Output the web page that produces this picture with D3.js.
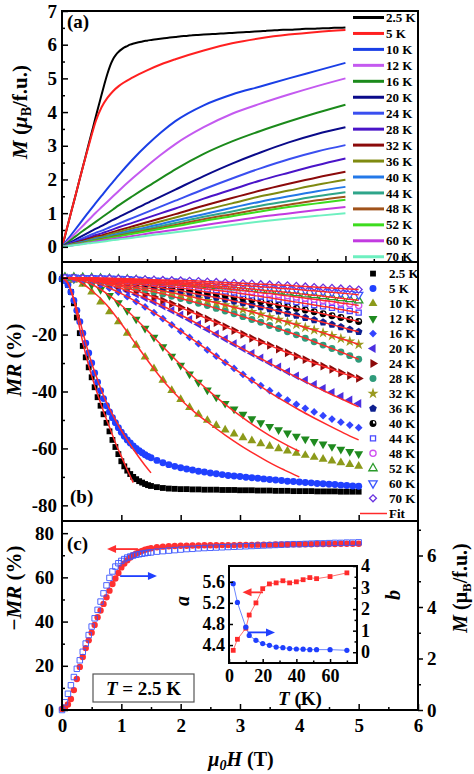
<!DOCTYPE html>
<html><head><meta charset="utf-8">
<script src="https://cdnjs.cloudflare.com/ajax/libs/d3/7.8.5/d3.min.js"></script>
<style>
body{margin:0;background:#fff}
text{font-family:"Liberation Serif","Times New Roman",serif;font-weight:bold;fill:#000}
</style></head>
<body><svg id="c" width="474" height="774"></svg>
<script>
// ---------------- DATA ----------------
const temps = ["2.5 K","5 K","10 K","12 K","16 K","20 K","24 K","28 K","32 K","36 K","40 K","44 K","48 K","52 K","60 K","70 K"];
const lineColors = ["#000000","#ff2020","#1a3fe6","#c45af0","#1b8a1b","#0a0a8a","#3a4ff0","#4a14c8","#8b0a0a","#7f8a10","#2378e8","#2fa58a","#a0521a","#3ddc1e","#c23ae0","#6ef0c0"];

// dense field grid (T) for 2.5 K and 5 K
const hDense = [0,0.05,0.1,0.15,0.2,0.25,0.3,0.35,0.4,0.45,0.5,0.55,0.6,0.65,0.7,0.75,0.8,0.85,0.9,0.95,1.0,1.05,1.1,1.15,1.2,1.25,1.3,1.35,1.4,1.45,1.5,
 1.6,1.7,1.8,1.9,2.0,2.1,2.2,2.3,2.4,2.5,2.6,2.7,2.8,2.9,3.0,3.1,3.2,3.3,3.4,3.5,3.6,3.7,3.8,3.9,4.0,4.1,4.2,4.3,4.4,4.5,4.6,4.7,4.8,4.9,5.0];
// M (muB/f.u.) at 2.5 K
const m2p5 = [0,0.3,0.63,0.96,1.28,1.6,1.93,2.26,2.58,2.91,3.24,3.56,3.89,4.21,4.53,4.84,5.13,5.38,5.57,5.7,5.79,5.86,5.92,5.96,6.0,6.03,6.05,6.07,6.09,6.11,6.12,
 6.15,6.17,6.19,6.21,6.23,6.25,6.26,6.28,6.29,6.3,6.31,6.32,6.33,6.34,6.35,6.36,6.37,6.38,6.39,6.4,6.41,6.42,6.43,6.44,6.44,6.45,6.46,6.47,6.47,6.48,6.49,6.49,6.5,6.5,6.51];
// MR (%) at 2.5 K and 5 K
const mr2p5 = [-0.5,-1,-2.5,-5,-9,-14,-19.5,-24,-28,-31.5,-35,-38.5,-42,-45,-48,-51,-54,-57,-59.5,-62,-64.5,-66.3,-67.8,-69,-70,-70.8,-71.5,-72,-72.5,-72.9,-73.2,
 -73.6,-73.9,-74.1,-74.2,-74.3,-74.3,-74.4,-74.4,-74.5,-74.5,-74.5,-74.6,-74.6,-74.6,-74.7,-74.7,-74.7,-74.8,-74.8,-74.8,-74.9,-74.9,-74.9,-75,-75,-75,-75,-75.1,-75.1,-75.1,-75.1,-75.2,-75.2,-75.2,-75.2];
const mr5 = [-0.5,-1,-2.5,-5,-8,-11.5,-15.5,-19.5,-23,-26.5,-30,-33.5,-36.7,-39.7,-42.5,-45,-47.2,-49.2,-51,-52.7,-54.3,-55.7,-57,-58.1,-59.1,-60,-60.8,-61.5,-62.2,-62.8,-63.3,
 -64.2,-65,-65.7,-66.3,-66.8,-67.2,-67.6,-68,-68.3,-68.6,-68.9,-69.2,-69.5,-69.7,-69.9,-70.1,-70.3,-70.5,-70.7,-70.9,-71.1,-71.3,-71.5,-71.6,-71.8,-72,-72.1,-72.3,-72.4,-72.6,-72.7,-72.9,-73,-73.2,-73.3];

// M(H) grid for panel (a), other temperatures
const hA = [0,0.1,0.2,0.3,0.4,0.5,0.6,0.7,0.8,0.9,1.0,1.25,1.5,1.75,2.0,2.5,3.0,3.5,4.0,4.5,5.0];
const m5  = [0,0.63,1.28,1.93,2.57,3.18,3.75,4.15,4.42,4.62,4.77,5.03,5.24,5.42,5.57,5.83,6.04,6.19,6.3,6.38,6.44];
const m10 = [0,0.22,0.44,0.66,0.88,1.1,1.31,1.52,1.73,1.93,2.13,2.6,3.02,3.4,3.73,4.2,4.52,4.76,5.0,5.23,5.46];
const m12 = [0,0.17,0.34,0.51,0.68,0.85,1.02,1.18,1.34,1.5,1.66,2.04,2.4,2.74,3.05,3.55,3.95,4.25,4.52,4.77,5.0];
const m16 = [0,0.13,0.26,0.39,0.51,0.63,0.75,0.87,0.99,1.11,1.23,1.51,1.78,2.04,2.3,2.76,3.13,3.44,3.72,3.98,4.22];
const m20 = [0,0.09,0.18,0.27,0.36,0.45,0.54,0.62,0.71,0.8,0.88,1.09,1.3,1.5,1.7,2.1,2.47,2.8,3.1,3.35,3.55];
const m24 = [0,0.07,0.14,0.21,0.28,0.35,0.42,0.48,0.55,0.62,0.69,0.86,1.03,1.2,1.37,1.71,2.03,2.33,2.6,2.83,3.02];
const m28 = [0,0.06,0.12,0.17,0.23,0.29,0.35,0.4,0.46,0.52,0.58,0.72,0.86,1.0,1.14,1.43,1.7,1.97,2.2,2.42,2.62];
const m32 = [0,0.05,0.1,0.15,0.2,0.25,0.3,0.34,0.39,0.44,0.49,0.61,0.73,0.85,0.97,1.22,1.45,1.67,1.87,2.06,2.23];
const m36 = [0,0.05,0.09,0.13,0.17,0.22,0.27,0.3,0.35,0.4,0.44,0.55,0.65,0.76,0.87,1.09,1.29,1.5,1.67,1.84,1.99];
const m40 = [0,0.04,0.08,0.12,0.16,0.2,0.24,0.27,0.31,0.35,0.39,0.49,0.58,0.68,0.78,0.97,1.16,1.34,1.5,1.65,1.78];
const m44 = [0,0.04,0.07,0.11,0.14,0.18,0.22,0.25,0.29,0.32,0.36,0.45,0.53,0.62,0.71,0.89,1.05,1.22,1.36,1.5,1.62];
const m48 = [0,0.03,0.07,0.1,0.13,0.17,0.2,0.23,0.26,0.3,0.33,0.41,0.49,0.57,0.65,0.82,0.97,1.12,1.25,1.38,1.49];
const m52 = [0,0.03,0.06,0.09,0.12,0.16,0.19,0.21,0.25,0.28,0.31,0.39,0.46,0.54,0.61,0.77,0.91,1.05,1.18,1.29,1.4];
const m60 = [0,0.03,0.05,0.08,0.1,0.13,0.16,0.18,0.21,0.23,0.26,0.32,0.39,0.45,0.51,0.64,0.77,0.89,0.99,1.09,1.18];
const m70 = [0,0.02,0.05,0.06,0.09,0.11,0.13,0.15,0.17,0.2,0.22,0.27,0.33,0.38,0.43,0.54,0.65,0.75,0.84,0.92,1.0];

// MR(H) grid for panel (b), 10 K .. 70 K
const hS = [0.05,0.2,0.35,0.5,0.65,0.8,0.95,1.1,1.25,1.4,1.55,1.7,1.85,2.0,2.15,2.3,2.45,2.6,2.75,2.9,3.05,3.2,3.35,3.5,3.65,3.8,3.95,4.1,4.25,4.4,4.55,4.7,4.85,5.0];
const mr10 = [-0.1,-0.8,-2.3,-5,-8.5,-12,-15.5,-19.5,-23.7,-27.9,-32,-36,-39.6,-42.8,-45.6,-48,-50.1,-51.9,-53.5,-54.9,-56.2,-57.3,-58.3,-59.2,-60.1,-60.9,-61.7,-62.4,-63.1,-63.8,-64.4,-65,-65.6,-66.2];
const mr12 = [-0.1,-0.5,-1.3,-2.5,-4.2,-6.3,-8.8,-11.6,-14.6,-17.8,-21,-24.3,-27.6,-30.8,-33.9,-36.8,-39.5,-42,-44.2,-46.2,-48,-49.6,-51,-52.3,-53.5,-54.6,-55.7,-56.7,-57.6,-58.5,-59.4,-60.3,-61.1,-61.9];
const mr16 = [0,-0.3,-0.8,-1.5,-2.5,-3.7,-5.1,-6.7,-8.4,-10.3,-12.3,-14.4,-16.6,-18.8,-21,-23.2,-25.4,-27.6,-29.8,-31.9,-34,-36,-37.9,-39.7,-41.4,-43,-44.5,-45.9,-47.2,-48.5,-49.7,-50.8,-51.8,-52.7];
const mr20 = [0,-0.2,-0.5,-1,-1.7,-2.5,-3.5,-4.6,-5.8,-7.1,-8.5,-10,-11.5,-13.1,-14.7,-16.4,-18.1,-19.8,-21.5,-23.2,-24.9,-26.6,-28.2,-29.8,-31.4,-33,-34.5,-36,-37.5,-38.9,-40.3,-41.7,-43,-44.2];
const mr24 = [0,-0.2,-0.4,-0.8,-1.4,-2,-2.8,-3.7,-4.6,-5.7,-6.8,-8,-9.2,-10.5,-11.8,-13.1,-14.5,-15.8,-17.2,-18.6,-19.9,-21.3,-22.6,-23.8,-25.1,-26.4,-27.6,-28.8,-30,-31.1,-32.2,-33.4,-34.4,-35.4];
const mr28 = [0,-0.2,-0.5,-0.9,-1.3,-1.8,-2.4,-3,-3.6,-4.3,-5,-5.7,-6.5,-7.3,-8.1,-9,-9.8,-10.8,-11.7,-12.7,-13.7,-14.7,-15.7,-16.8,-17.9,-19,-20.1,-21.3,-22.5,-23.7,-24.9,-26.1,-27.4,-28.7];
const mr32 = [0,-0.2,-0.4,-0.7,-1.1,-1.5,-1.9,-2.4,-2.9,-3.5,-4.1,-4.7,-5.3,-5.9,-6.6,-7.3,-8.1,-8.8,-9.6,-10.4,-11.2,-12,-12.9,-13.8,-14.7,-15.6,-16.5,-17.5,-18.4,-19.4,-20.4,-21.4,-22.4,-23.5];
const mr36 = [0,-0.1,-0.3,-0.5,-0.8,-1.1,-1.4,-1.8,-2.2,-2.6,-3.1,-3.6,-4.1,-4.6,-5.2,-5.8,-6.4,-7,-7.6,-8.3,-8.9,-9.6,-10.3,-11,-11.8,-12.6,-13.3,-14.1,-14.9,-15.7,-16.5,-17.3,-18.2,-19];
const mr40 = [0,-0.1,-0.2,-0.4,-0.6,-0.8,-1.1,-1.4,-1.7,-2,-2.4,-2.8,-3.2,-3.6,-4.1,-4.6,-5.1,-5.6,-6.1,-6.7,-7.2,-7.8,-8.4,-9,-9.6,-10.2,-10.8,-11.4,-12,-12.7,-13.4,-14,-14.7,-15.4];
const mr44 = [0,-0.1,-0.2,-0.3,-0.5,-0.7,-0.9,-1.1,-1.4,-1.6,-1.9,-2.2,-2.5,-2.9,-3.2,-3.6,-4,-4.4,-4.8,-5.2,-5.7,-6.2,-6.6,-7.1,-7.6,-8.1,-8.6,-9.1,-9.6,-10.1,-10.6,-11.2,-11.7,-12.3];
const mr48 = [0,-0.1,-0.2,-0.3,-0.4,-0.6,-0.7,-0.9,-1.1,-1.3,-1.5,-1.8,-2,-2.3,-2.6,-2.9,-3.2,-3.5,-3.8,-4.2,-4.5,-4.9,-5.3,-5.6,-6,-6.4,-6.8,-7.2,-7.6,-8,-8.4,-8.9,-9.3,-9.8];
const mr52 = [0,0,-0.1,-0.2,-0.3,-0.4,-0.6,-0.7,-0.9,-1.1,-1.3,-1.5,-1.7,-1.9,-2.1,-2.4,-2.6,-2.9,-3.1,-3.4,-3.7,-4,-4.3,-4.6,-4.9,-5.2,-5.5,-5.9,-6.2,-6.5,-6.9,-7.2,-7.6,-8];
const mr60 = [0,0,-0.1,-0.1,-0.2,-0.3,-0.4,-0.5,-0.7,-0.8,-1,-1.1,-1.3,-1.4,-1.6,-1.8,-2,-2.2,-2.4,-2.6,-2.8,-3,-3.2,-3.4,-3.7,-3.9,-4.1,-4.4,-4.6,-4.9,-5.1,-5.4,-5.7,-6];
const mr70 = [0,0,-0.1,-0.1,-0.2,-0.2,-0.3,-0.4,-0.5,-0.6,-0.7,-0.8,-0.9,-1,-1.1,-1.2,-1.4,-1.5,-1.7,-1.8,-2,-2.1,-2.3,-2.4,-2.6,-2.7,-2.9,-3.1,-3.3,-3.5,-3.6,-3.8,-4,-4.2];

// fit curves
const fitH2p5 = [0,0.1,0.2,0.3,0.4,0.5,0.6,0.7,0.8,0.9,1.0,1.1,1.2];
const fit2p5  = [0,-2,-8,-18,-27,-34.5,-41,-47,-52.5,-58,-62.8,-67.5,-72];
const fitH5   = [0,0.1,0.2,0.3,0.4,0.5,0.6,0.7,0.8,0.9,1.0,1.1,1.2,1.3,1.4,1.5];
const fit5    = [0,-2,-7.5,-15,-23,-30,-36,-41.5,-46,-50,-53.7,-57,-60.2,-63.2,-66,-68.6];
const fitH    = [0,0.25,0.5,0.75,1.0,1.25,1.5,1.75,2.0,2.25,2.5,2.75,3.0,3.25,3.5,3.75,4.0,4.25,4.5,4.75,5.0];
const fit10   = [0,-1,-4.5,-9.5,-16.2,-23.5,-30.7,-37.3,-42.8,-47.5,-51.5,-55.3,-58.8,-62,-65,-67.6,-70];
const fit12   = [0,-0.5,-2.3,-5.5,-9.7,-14.6,-19.9,-25.3,-30.6,-35.6,-40.2,-44.5,-48.5,-52.2,-55.5,-58.4,-61];
const fit16   = [0,-0.2,-1.4,-3.2,-5.6,-8.4,-11.6,-15.1,-18.7,-22.4,-26.1,-29.8,-33.4,-36.9,-40.3,-43.5,-46.5,-49.3,-52,-54.6,-57];
const fit20   = [0,-0.2,-1,-2.2,-3.8,-5.8,-8,-10.5,-13.1,-15.8,-18.7,-21.6,-24.5,-27.3,-30.1,-32.8,-35.5,-38.1,-40.6,-43,-45.4];

// inset: fit parameters vs T
const insetT = [2.5,5,10,12,16,20,24,28,32,36,40,44,48,52,60,70];
const insetA = [4.3,4.51,4.72,4.97,5.2,5.47,5.56,5.58,5.62,5.58,5.6,5.64,5.68,5.66,5.7,5.77];
const insetB = [3.18,2.31,1.16,0.78,0.55,0.4,0.32,0.24,0.21,0.17,0.15,0.14,0.12,0.12,0.12,0.09];

// ticks
const ticksA = [0,1,2,3,4,5,6,7];
const ticksB = [-80,-60,-40,-20,0];
const ticksCL = [0,20,40,60,80];
const ticksCR = [0,2,4,6];
const ticksX = [0,1,2,3,4,5,6];
const ticksIa = [4.4,4.8,5.2,5.6];
const ticksIb = [0,1,2,3,4];
const ticksIT = [0,20,40,60];

// ---------------- LAYOUT ----------------
const svg = d3.select("#c");
const X0=62, X1=418, YT=11, YAB=262, YBC=521, YB=710;
const xA = d3.scaleLinear().domain([0,6.28]).range([X0,X1]);
const xB = d3.scaleLinear().domain([0,6]).range([X0,X1]);
const yA = d3.scaleLinear().domain([-0.45,7]).range([YAB,YT]);
const yB = d3.scaleLinear().domain([-85.5,5.5]).range([YBC,YAB]);
const yC = d3.scaleLinear().domain([0,85.5]).range([YB,YBC]);
const yCR = d3.scaleLinear().domain([0,7.34]).range([YB,YBC]);

const FS = 19;
function styleAxis(g, fs){
  g.select(".domain").remove();
  g.attr("font-family",null).attr("font-size",fs||FS);
  g.selectAll("line").attr("stroke","#000").attr("stroke-width",1.5);
  g.selectAll("text").attr("fill","#000");
}
function addAxis(gen, tx, ty, fs){
  const g = svg.append("g").attr("transform",`translate(${tx},${ty})`).call(gen);
  styleAxis(g, fs); return g;
}
const fmt = d=>String(d);
const halves = (lo,hi,st)=>d3.range(lo,hi+1e-9,st);

// ---------- panel (a) ----------
const lineGen = d3.line().curve(d3.curveMonotoneX);
const mSeries = [null,m5,m10,m12,m16,m20,m24,m28,m32,m36,m40,m44,m48,m52,m60,m70];
const gA = svg.append("g");
mSeries.forEach((arr,i)=>{
  const xs = i===0 ? hDense : hA;
  const ys = i===0 ? m2p5 : arr;
  gA.append("path").attr("d", lineGen(xs.map((h,j)=>[xA(h), yA(ys[j])])))
    .attr("fill","none").attr("stroke",lineColors[i]).attr("stroke-width",2);
});
// legend (a)
temps.forEach((t,i)=>{
  const y = 17.5 + i*15.95;
  svg.append("line").attr("x1",353).attr("x2",384).attr("y1",y).attr("y2",y)
    .attr("stroke",lineColors[i]).attr("stroke-width",3);
  svg.append("text").attr("x",386).attr("y",y).attr("dy","0.35em").attr("font-size",13).text(t);
});
svg.append("text").attr("x",67).attr("y",28).attr("font-size",19).text("(a)");
addAxis(d3.axisLeft(yA).tickValues(ticksA).tickSize(-6).tickPadding(5).tickFormat(fmt), X0, 0);
addAxis(d3.axisLeft(yA).tickValues(halves(0.5,6.5,1)).tickSize(-3).tickFormat(""), X0, 0);
addAxis(d3.axisBottom(xA).tickValues(halves(1,6,1)).tickSize(-6).tickFormat(""), 0, YAB);
addAxis(d3.axisBottom(xA).tickValues(halves(0.5,5.5,1)).tickSize(-3).tickFormat(""), 0, YAB);

// ---------- panel (b) ----------
svg.append("rect").attr("x",X0).attr("y",YAB+1).attr("width",X1-X0).attr("height",YBC-YAB-1).attr("fill","#fff");

const pentagon = {draw(ctx,size){const r=Math.sqrt(size/2.378);for(let k=0;k<5;k++){const a=-Math.PI/2+k*2*Math.PI/5;const px=r*Math.cos(a),py=r*Math.sin(a);k?ctx.lineTo(px,py):ctx.moveTo(px,py);}ctx.closePath();}};
const quarter = {draw(ctx,size){const r=Math.sqrt(size/Math.PI);ctx.moveTo(0,0);ctx.lineTo(r,0);ctx.arc(0,0,r,0,-Math.PI/2,true);ctx.closePath();}};
const mk = [
  {type:d3.symbolSquare,size:34,rot:0,fill:"#000",stroke:"none"},
  {type:d3.symbolCircle,size:38,rot:0,fill:"#2040ff",stroke:"none"},
  {type:d3.symbolTriangle,size:34,rot:0,fill:"#8c9a1a",stroke:"none"},
  {type:d3.symbolTriangle,size:34,rot:180,fill:"#1f8a1f",stroke:"none"},
  {type:d3.symbolSquare,size:30,rot:45,fill:"#3344ff",stroke:"none"},
  {type:d3.symbolTriangle,size:34,rot:-90,fill:"#4b2fe0",stroke:"none"},
  {type:d3.symbolTriangle,size:34,rot:90,fill:"#8b0a0a",stroke:"none"},
  {type:d3.symbolCircle,size:38,rot:0,fill:"#2f9b7b",stroke:"none"},
  {type:d3.symbolStar,size:38,rot:0,fill:"#9a9a20",stroke:"none"},
  {type:pentagon,size:38,rot:0,fill:"#0d1f8f",stroke:"none"},
  {type:d3.symbolCircle,size:38,rot:0,fill:"#000",stroke:"none",half:true},
  {type:d3.symbolSquare,size:26,rot:0,fill:"#fff",stroke:"#4a4aff"},
  {type:d3.symbolCircle,size:30,rot:0,fill:"#fff",stroke:"#d050f0"},
  {type:d3.symbolTriangle,size:30,rot:0,fill:"#fff",stroke:"#2a9a2a"},
  {type:d3.symbolTriangle,size:30,rot:180,fill:"#fff",stroke:"#3a55ff"},
  {type:d3.symbolSquare,size:24,rot:45,fill:"#fff",stroke:"#6a33e0"}
];
function drawMarker(g, m, x, y){
  g.append("path").attr("d", d3.symbol().type(m.type).size(m.size)())
    .attr("transform",`translate(${x},${y}) rotate(${m.rot})`)
    .attr("fill",m.fill).attr("stroke",m.stroke).attr("stroke-width",1.3);
  if(m.half){
    g.append("path").attr("d", d3.symbol().type(quarter).size(m.size*0.45)())
      .attr("transform",`translate(${x},${y})`).attr("fill","#fff");
  }
}
const seriesB = [
  [hDense,mr2p5],[hDense,mr5],[hS,mr10],[hS,mr12],[hS,mr16],[hS,mr20],[hS,mr24],[hS,mr28],
  [hS,mr32],[hS,mr36],[hS,mr40],[hS,mr44],[hS,mr48],[hS,mr52],[hS,mr60],[hS,mr70]
];
const gB = svg.append("g");
seriesB.forEach(([hs,vs],i)=>{
  hs.forEach((h,j)=>drawMarker(gB, mk[i], xB(h), yB(vs[j])));
});
const fitsB = [
  [fitH2p5,fit2p5],[fitH5,fit5],[fitH.slice(0,fit10.length),fit10],[fitH.slice(0,fit12.length),fit12],
  [fitH,fit16],[fitH,fit20],[hS,mr24],[hS,mr28],[hS,mr32],[hS,mr36],[hS,mr40],[hS,mr44],[hS,mr48],[hS,mr52],[hS,mr60],[hS,mr70]
];
fitsB.forEach(([hs,vs])=>{
  gB.append("path").attr("d", lineGen(hs.map((h,j)=>[xB(h), yB(vs[j])])))
    .attr("fill","none").attr("stroke","#ff2a2a").attr("stroke-width",1.5);
});
// legend (b)
temps.forEach((t,i)=>{
  const y = 273.6 + i*14.98;
  drawMarker(svg, mk[i], 373, y);
  svg.append("text").attr("x",389).attr("y",y).attr("dy","0.35em").attr("font-size",13).text(t);
});
svg.append("line").attr("x1",360).attr("x2",387).attr("y1",513.5).attr("y2",513.5).attr("stroke","#ff2a2a").attr("stroke-width",1.5);
svg.append("text").attr("x",389).attr("y",513.5).attr("dy","0.35em").attr("font-size",13).text("Fit");
svg.append("text").attr("x",70).attr("y",503).attr("font-size",19).text("(b)");
addAxis(d3.axisLeft(yB).tickValues(ticksB).tickSize(-6).tickPadding(5).tickFormat(fmt), X0, 0);
addAxis(d3.axisLeft(yB).tickValues([-70,-50,-30,-10]).tickSize(-3).tickFormat(""), X0, 0);
addAxis(d3.axisBottom(xB).tickValues([1,2,3,4,5]).tickSize(-6).tickFormat(""), 0, YBC);

// ---------- panel (c) ----------
const gC = svg.append("g");
hDense.forEach((h,j)=>{
  gC.append("circle").attr("cx",xB(h)).attr("cy",yC(-mr2p5[j])).attr("r",3.2).attr("fill","#ff3030");
});
hDense.forEach((h,j)=>{
  gC.append("path").attr("d", d3.symbol().type(d3.symbolSquare).size(30)())
    .attr("transform",`translate(${xB(h)},${yCR(m2p5[j])})`)
    .attr("fill","none").attr("stroke","#3a55ff").attr("stroke-width",0.9);
});
function arrow(g, x1, y, x2, color){
  const dir = Math.sign(x2-x1);
  g.append("line").attr("x1",x1).attr("x2",x2-dir*7).attr("y1",y).attr("y2",y).attr("stroke",color).attr("stroke-width",1.8);
  g.append("path").attr("d",`M${x2},${y} L${x2-dir*9},${y-4} L${x2-dir*9},${y+4} Z`).attr("fill",color);
}
arrow(svg, xB(1.28), yC(72.8), xB(0.76), "#ff3030");
arrow(svg, xB(0.98), yCR(5.2), xB(1.6), "#1f3fff");
svg.append("text").attr("x",67).attr("y",550).attr("font-size",19).text("(c)");
// T = 2.5 K box
svg.append("rect").attr("x",93).attr("y",674).attr("width",101).attr("height",28).attr("fill","#fff").attr("stroke","#555").attr("stroke-width",1.2);
svg.append("text").attr("x",143.5).attr("y",695).attr("text-anchor","middle").attr("font-size",19)
  .html('<tspan font-style="italic">T</tspan> = 2.5 K');
addAxis(d3.axisLeft(yC).tickValues(ticksCL).tickSize(-6).tickPadding(8).tickFormat(fmt), X0, 0);
addAxis(d3.axisLeft(yC).tickValues([10,30,50,70]).tickSize(-3).tickFormat(""), X0, 0);
addAxis(d3.axisRight(yCR).tickValues(ticksCR).tickSize(5).tickPadding(4).tickFormat(fmt), X1, 0);
addAxis(d3.axisRight(yCR).tickValues([1,3,5,7]).tickSize(3).tickFormat(""), X1, 0);
addAxis(d3.axisBottom(xB).tickValues(ticksX).tickSize(-6).tickPadding(9).tickFormat(fmt), 0, YB);
addAxis(d3.axisBottom(xB).tickValues(halves(0.5,5.5,1)).tickSize(-3).tickFormat(""), 0, YB);

// ---------- inset ----------
const IX0=229, IX1=357, IY0=566, IY1=663;
const xI = d3.scaleLinear().domain([0,76]).range([IX0,IX1]);
const yIa = d3.scaleLinear().domain([4.06,5.9]).range([IY1,IY0]);
const yIb = d3.scaleLinear().domain([-0.5,4]).range([IY1,IY0]);
svg.append("rect").attr("x",IX0).attr("y",IY0).attr("width",IX1-IX0).attr("height",IY1-IY0).attr("fill","#fff");
const gI = svg.append("g");
gI.append("path").attr("d", d3.line()(insetT.map((t,i)=>[xI(t), yIa(insetA[i])]))).attr("fill","none").attr("stroke","#ff6060").attr("stroke-width",0.9);
gI.append("path").attr("d", d3.line()(insetT.map((t,i)=>[xI(t), yIb(insetB[i])]))).attr("fill","none").attr("stroke","#5a78ff").attr("stroke-width",0.9);
insetT.forEach((t,i)=>{
  gI.append("rect").attr("x",xI(t)-2.4).attr("y",yIa(insetA[i])-2.4).attr("width",4.8).attr("height",4.8).attr("fill","#ff2a2a");
  gI.append("circle").attr("cx",xI(t)).attr("cy",yIb(insetB[i])).attr("r",2.6).attr("fill","#1f3fff");
});
arrow(svg, xI(20.2), yIa(5.4), xI(8), "#ff3030");
arrow(svg, xI(11.3), yIb(0.92), xI(27.3), "#1f3fff");
addAxis(d3.axisLeft(yIa).tickValues(ticksIa).tickSize(-4).tickPadding(4).tickFormat(d=>d.toFixed(1)), IX0, 0, 18);
addAxis(d3.axisRight(yIb).tickValues(ticksIb).tickSize(-4).tickPadding(4).tickFormat(fmt), IX1, 0, 18);
addAxis(d3.axisRight(yIb).tickValues([0.5,1.5,2.5,3.5]).tickSize(-2.5).tickFormat(""), IX1, 0);
addAxis(d3.axisBottom(xI).tickValues(ticksIT).tickSize(-4).tickPadding(6).tickFormat(fmt), 0, IY1, 18);
addAxis(d3.axisBottom(xI).tickValues([10,30,50,70]).tickSize(-2.5).tickFormat(""), 0, IY1);
svg.append("rect").attr("x",IX0).attr("y",IY0).attr("width",IX1-IX0).attr("height",IY1-IY0).attr("fill","none").attr("stroke","#000").attr("stroke-width",2);
svg.append("text").attr("transform","translate(189,601) rotate(-90)").attr("text-anchor","middle").attr("font-size",20).attr("font-style","italic").text("a");
svg.append("text").attr("transform","translate(400,595) rotate(-90)").attr("text-anchor","middle").attr("font-size",20).attr("font-style","italic").text("b");
svg.append("text").attr("x",300).attr("y",705).attr("text-anchor","middle").attr("font-size",19)
  .html('<tspan font-style="italic">T</tspan> (K)');

// ---------- frame ----------
const frame = svg.append("g").attr("fill","none").attr("stroke","#000").attr("stroke-width",2);
frame.append("rect").attr("x",X0).attr("y",YT).attr("width",X1-X0).attr("height",YB-YT);
frame.append("line").attr("x1",X0).attr("x2",X1).attr("y1",YAB).attr("y2",YAB);
frame.append("line").attr("x1",X0).attr("x2",X1).attr("y1",YBC).attr("y2",YBC);

// ---------- axis titles ----------
svg.append("text").attr("transform","translate(27,112) rotate(-90)").attr("text-anchor","middle").attr("font-size",21)
  .html('<tspan font-style="italic">M</tspan> (<tspan font-style="italic">μ</tspan><tspan font-size="14" dy="4">B</tspan><tspan dy="-4">/f.u.)</tspan>');
svg.append("text").attr("transform","translate(21,360) rotate(-90)").attr("text-anchor","middle").attr("font-size",21)
  .html('<tspan font-style="italic">MR</tspan> (%)');
svg.append("text").attr("transform","translate(21,588) rotate(-90)").attr("text-anchor","middle").attr("font-size",21)
  .html('−<tspan font-style="italic">MR</tspan> (%)');
svg.append("text").attr("transform","translate(467,588) rotate(-90)").attr("text-anchor","middle").attr("font-size",20)
  .html('<tspan font-style="italic">M</tspan> (μ<tspan font-size="13" dy="4">B</tspan><tspan dy="-4">/f.u.)</tspan>');
svg.append("text").attr("x",241).attr("y",766).attr("text-anchor","middle").attr("font-size",20)
  .html('<tspan font-style="italic">μ</tspan><tspan font-style="italic" font-size="14" dy="4">0</tspan><tspan font-style="italic" dy="-4">H</tspan> (T)');
</script></body></html>
